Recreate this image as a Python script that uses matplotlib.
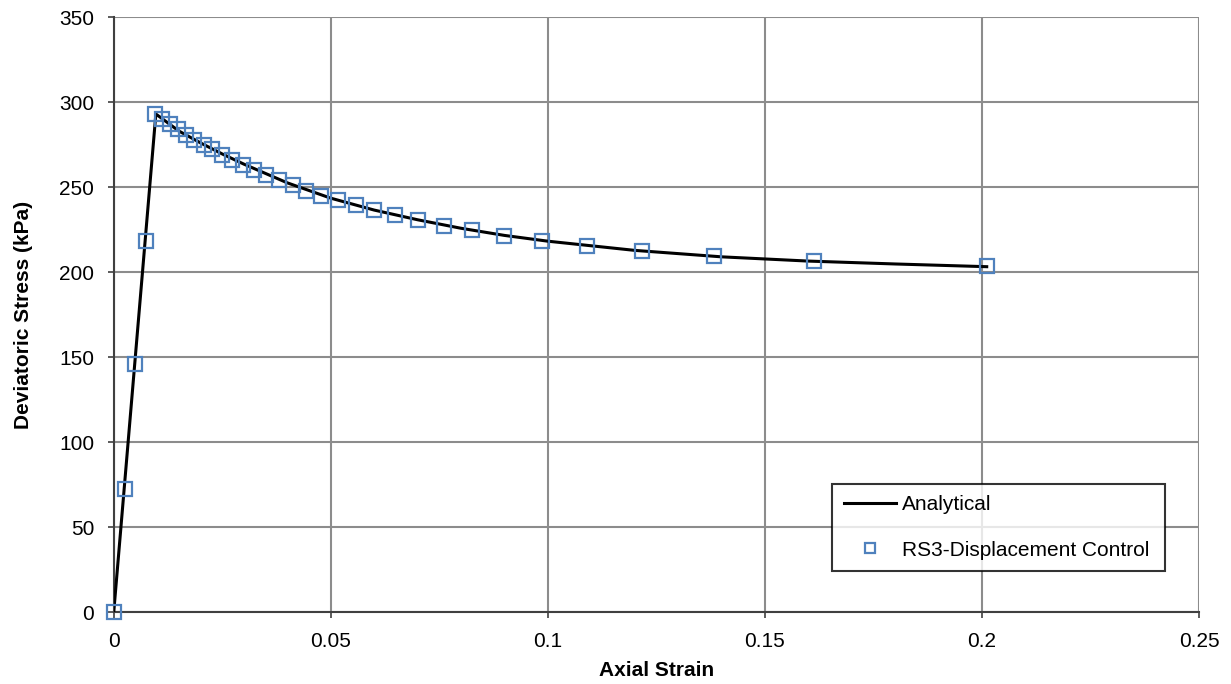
import numpy as np
import matplotlib
matplotlib.use("Agg")
import matplotlib.pyplot as plt

plt.rcParams["font.family"] = ["Liberation Sans", "DejaVu Sans"]

# Analytical curve
analytical_strain = [0, 0.0097, 0.015, 0.02, 0.025, 0.03, 0.04, 0.05, 0.06, 0.07,
                     0.08, 0.09, 0.1, 0.12, 0.14, 0.16, 0.18, 0.2011]
analytical_stress = [0, 293, 283, 276, 269.5, 263.5, 252.5, 243.5, 236.5, 230.8,
                     225.8, 221.6, 218.2, 212.8, 209, 206.5, 204.8, 203.2]

# RS3 displacement control results
rs3_strain = [0, 0.0025, 0.005, 0.0074, 0.0095, 0.0111, 0.0129, 0.0148, 0.0167,
              0.0186, 0.0207, 0.0227, 0.025, 0.0273, 0.0298, 0.0323, 0.035, 0.038,
              0.0412, 0.0444, 0.0478, 0.0516, 0.0557, 0.060, 0.0648, 0.0702, 0.076,
              0.0826, 0.09, 0.0987, 0.109, 0.1216, 0.1382, 0.1614, 0.2011]
rs3_stress = [0, 72.5, 146, 218.2, 293, 289.8, 287, 284, 280.8, 278, 275, 272.2,
              269, 265.9, 263.1, 260.2, 256.9, 254.1, 251, 248, 244.9, 242.2, 239.2,
              236.3, 233.5, 230.5, 227.4, 224.5, 221.2, 218.2, 215.3, 212.5, 209.4,
              206.7, 203.7]

x_ticks = [0, 0.05, 0.1, 0.15, 0.2, 0.25]
x_tick_labels = ["0", "0.05", "0.1", "0.15", "0.2", "0.25"]
y_ticks = [0, 50, 100, 150, 200, 250, 300, 350]

fig = plt.figure(figsize=(12.31, 6.84), dpi=100)
ax = fig.add_axes([0.0924, 0.105, 0.8816, 0.87])

ax.plot(analytical_strain, analytical_stress, color="black", lw=2.2,
        label="Analytical", zorder=3)
ax.plot(rs3_strain, rs3_stress, ls="none", marker="s", ms=9.5, mfc="none",
        mec="#4F81BD", mew=1.6, label="RS3-Displacement Control", zorder=4,
        clip_on=False)

ax.set_xlim(0, 0.25)
ax.set_ylim(0, 350)
ax.set_xticks(x_ticks)
ax.set_xticklabels(x_tick_labels)
ax.set_yticks(y_ticks)
ax.grid(True, color="#8C8C8C", lw=1.5)
ax.set_axisbelow(True)

for side in ["top", "right"]:
    ax.spines[side].set_visible(False)
ax.spines["left"].set_color("#404040")
ax.spines["bottom"].set_color("#404040")
ax.spines["left"].set_linewidth(1.5)
ax.spines["bottom"].set_linewidth(1.5)

ax.tick_params(axis="both", direction="out", length=4.5, width=1.2,
               color="#404040", labelsize=15, pad=9.5)

ax.set_xlabel("Axial Strain", fontsize=15, fontweight="bold", labelpad=7.5)
ax.set_ylabel("Deviatoric Stress (kPa)", fontsize=15, fontweight="bold", labelpad=19)

leg = ax.legend(loc="lower left", bbox_to_anchor=(0.662, 0.069, 0.307, 0.146),
                mode="expand", fontsize=15, frameon=True, fancybox=False,
                borderpad=0.55, handlelength=2.5, handletextpad=0.3,
                labelspacing=1.27, markerscale=0.8, borderaxespad=0)
leg.get_frame().set_edgecolor("black")
leg.get_frame().set_linewidth(1.5)

fig.savefig("out.png", dpi=100)
